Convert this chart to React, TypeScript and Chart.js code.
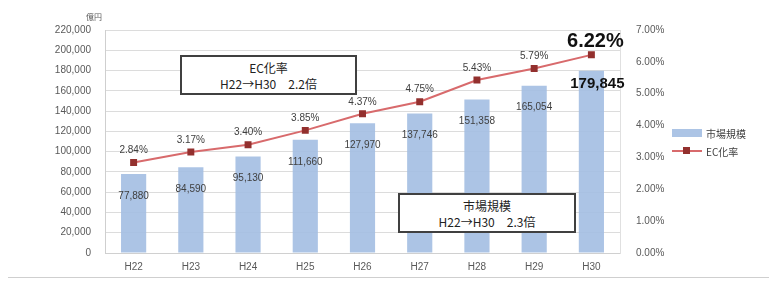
import React, { useEffect, useRef } from "react";
import { Chart, registerables } from "chart.js";

Chart.register(...registerables);

const categories = ["H22", "H23", "H24", "H25", "H26", "H27", "H28", "H29", "H30"];
const marketSize = [77880, 84590, 95130, 111660, 127970, 137746, 151358, 165054, 179845];
const ecRate = [2.84, 3.17, 3.4, 3.85, 4.37, 4.75, 5.43, 5.79, 6.22];
const leftTicks = { min: 0, max: 220000, step: 20000 };
const rightTicks = { min: 0, max: 7, step: 1 };

const FONT = '"Liberation Sans", "Noto Sans CJK JP", sans-serif';
const JP = '"Noto Sans CJK JP", "Liberation Sans", sans-serif';

const labelPlugin = {
  id: "valueLabels",
  afterDatasetsDraw(chart: any) {
    const ctx = chart.ctx;
    const barMeta = chart.getDatasetMeta(1);
    const lineMeta = chart.getDatasetMeta(0);
    const last = categories.length - 1;
    ctx.save();
    ctx.textAlign = "center";
    ctx.textBaseline = "middle";
    barMeta.data.forEach((bar: any, i: number) => {
      const txt = marketSize[i].toLocaleString("en-US");
      if (i === last) {
        ctx.font = `bold 15px ${FONT}`;
        ctx.fillStyle = "#111";
        ctx.fillText(txt, bar.x + 6, bar.y + 13);
      } else {
        ctx.font = `10px ${FONT}`;
        ctx.fillStyle = "#404040";
        ctx.fillText(txt, bar.x, bar.y + 22);
      }
    });
    lineMeta.data.forEach((pt: any, i: number) => {
      const txt = ecRate[i].toFixed(2) + "%";
      if (i === last) {
        ctx.font = `bold 20px ${FONT}`;
        ctx.fillStyle = "#111";
        ctx.fillText(txt, pt.x + 4, pt.y - 13);
      } else {
        ctx.font = `10px ${FONT}`;
        ctx.fillStyle = "#404040";
        ctx.fillText(txt, pt.x, pt.y - 12);
      }
    });
    ctx.restore();
  },
};

export default function App() {
  const ref = useRef<HTMLCanvasElement | null>(null);

  useEffect(() => {
    if (!ref.current) return;
    const chart = new Chart(ref.current, {
      type: "bar",
      data: {
        labels: categories,
        datasets: [
          {
            type: "line",
            label: "EC化率",
            data: ecRate,
            yAxisID: "y1",
            borderColor: "#d86a6c",
            borderWidth: 2,
            pointStyle: "rect",
            pointRadius: 3.5,
            pointBackgroundColor: "#93302e",
            pointBorderColor: "#93302e",
            order: 0,
          } as any,
          {
            type: "bar",
            label: "市場規模",
            data: marketSize,
            yAxisID: "y",
            backgroundColor: "rgba(163,190,226,0.9)",
            borderWidth: 0,
            categoryPercentage: 0.8,
            barPercentage: 0.55,
            order: 1,
          },
        ],
      },
      options: {
        responsive: false,
        animation: false,
        layout: { padding: { top: 15, left: 0, right: 0, bottom: 0 } },
        plugins: { legend: { display: false }, tooltip: { enabled: false } },
        scales: {
          x: {
            grid: { display: false, drawTicks: false },
            border: { color: "#d0d0d0" },
            ticks: { color: "#595959", font: { size: 10, family: FONT }, padding: 8 },
            afterFit: (s: any) => { s.height = 25; },
          },
          y: {
            position: "left",
            min: leftTicks.min,
            max: leftTicks.max,
            ticks: {
              stepSize: leftTicks.step,
              color: "#595959",
              font: { size: 10, family: FONT },
              padding: 14,
              callback: (v: any) => Number(v).toLocaleString("en-US"),
            },
            grid: { color: "#dcdcdc", drawTicks: false },
            border: { color: "#cfcfcf" },
            afterFit: (s: any) => { s.width = 97; },
          },
          y1: {
            position: "right",
            min: rightTicks.min,
            max: rightTicks.max,
            ticks: {
              stepSize: rightTicks.step,
              color: "#595959",
              font: { size: 10, family: FONT },
              padding: 16,
              callback: (v: any) => Number(v).toFixed(2) + "%",
            },
            grid: { display: false, drawTicks: false },
            border: { color: "#e0e0e0" },
            afterFit: (s: any) => { s.width = 150; },
          },
        },
      },
      plugins: [labelPlugin],
    });
    return () => chart.destroy();
  }, []);

  const boxStyle: React.CSSProperties = {
    position: "absolute",
    boxSizing: "border-box",
    border: "2px solid #404040",
    background: "#fff",
    fontFamily: JP,
    fontSize: 12,
    color: "#222",
    textAlign: "center",
    lineHeight: "16px",
    paddingTop: 3,
  };

  return (
    <div style={{ position: "relative", width: 762, height: 270 }}>
      <div
        style={{
          position: "absolute",
          left: -1,
          top: -1,
          width: 763,
          height: 271,
          boxSizing: "border-box",
          border: "1px solid #cfcfcf",
        }}
      />
      <canvas ref={ref} width={762} height={270} style={{ position: "absolute", left: 0, top: 0 }} />
      <div style={{ position: "absolute", left: 78, top: 3, fontFamily: JP, fontSize: 8, color: "#595959" }}>億円</div>
      <div style={{ ...boxStyle, left: 172, top: 47, width: 177, height: 40 }}>
        <div>EC化率</div>
        <div>H22→H30　2.2倍</div>
      </div>
      <div style={{ ...boxStyle, left: 390, top: 185, width: 178, height: 40 }}>
        <div>市場規模</div>
        <div>H22→H30　2.3倍</div>
      </div>
      <div style={{ position: "absolute", left: 664, top: 116, fontFamily: JP, fontSize: 10, color: "#404040" }}>
        <div style={{ display: "flex", alignItems: "center", height: 18 }}>
          <span style={{ display: "inline-block", width: 30, height: 8, background: "rgba(163,190,226,0.9)", marginRight: 4 }} />
          市場規模
        </div>
        <div style={{ display: "flex", alignItems: "center", height: 18 }}>
          <span style={{ position: "relative", display: "inline-block", width: 30, height: 8, marginRight: 4 }}>
            <span style={{ position: "absolute", left: 0, top: 3, width: 30, height: 2, background: "#d86a6c" }} />
            <span style={{ position: "absolute", left: 11, top: 0, width: 7, height: 7, background: "#93302e" }} />
          </span>
          EC化率
        </div>
      </div>
    </div>
  );
}
